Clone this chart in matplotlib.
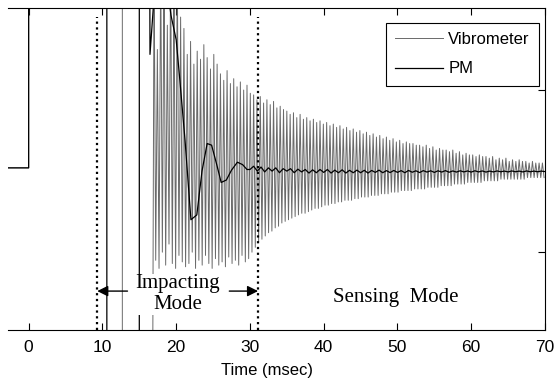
import numpy as np
import matplotlib
matplotlib.use('Agg')
import matplotlib.pyplot as plt

# vibrometer: lead-in before the ringing (times in msec)
vib_pre_t = [-2.8, 0.0, 0.0, 12.7, 12.7, 16.8]
vib_pre_y = [0.02, 0.02, 1.5, 1.5, -1.5, -1.5]

# ringing part, one top and one bottom per cycle
vib_start = 17.0
vib_period = 0.45
vib_top = [1.3, 0.75, 1.3, 1.2, 0.9, 1.3, 1.1, 1.25, 0.95, 0.88,
           0.72, 0.8, 0.66, 0.74, 0.69, 0.78, 0.7, 0.63, 0.72, 0.66,
           0.6, 0.56, 0.62, 0.54, 0.57, 0.52, 0.55, 0.5, 0.53, 0.48,
           0.47, 0.44, 0.46, 0.42, 0.44, 0.41, 0.43, 0.39, 0.4, 0.38,
           0.37, 0.35, 0.36, 0.33, 0.35, 0.32, 0.33, 0.31, 0.32, 0.3,
           0.31, 0.29, 0.3, 0.28, 0.29, 0.27, 0.28, 0.26, 0.27, 0.25,
           0.26, 0.24, 0.25, 0.23, 0.24, 0.22, 0.23, 0.21, 0.22, 0.2,
           0.21, 0.19, 0.2, 0.18, 0.19, 0.17, 0.18, 0.17, 0.17, 0.16,
           0.16, 0.15, 0.16, 0.14, 0.15, 0.13, 0.14, 0.13, 0.13, 0.12,
           0.13, 0.11, 0.12, 0.1, 0.11, 0.1, 0.1, 0.09, 0.1, 0.09,
           0.09, 0.08, 0.09, 0.07, 0.08, 0.07, 0.08, 0.06, 0.07, 0.06,
           0.07, 0.06, 0.06, 0.05, 0.06, 0.05, 0.05, 0.05]
vib_bot = [-0.55, -0.6, -0.5, -0.58, -0.45, -0.57, -0.6, -0.52, -0.56, -0.59,
           -0.57, -0.5, -0.6, -0.55, -0.58, -0.52, -0.57, -0.6, -0.54, -0.58,
           -0.56, -0.59, -0.53, -0.57, -0.55, -0.58, -0.52, -0.56, -0.54, -0.5,
           -0.47, -0.44, -0.42, -0.4, -0.38, -0.37, -0.35, -0.34, -0.32, -0.31,
           -0.3, -0.29, -0.28, -0.27, -0.26, -0.26, -0.25, -0.24, -0.23, -0.23,
           -0.22, -0.21, -0.21, -0.2, -0.2, -0.19, -0.19, -0.18, -0.18, -0.18,
           -0.17, -0.17, -0.16, -0.16, -0.16, -0.15, -0.15, -0.15, -0.14, -0.14,
           -0.14, -0.13, -0.13, -0.13, -0.12, -0.12, -0.12, -0.12, -0.11, -0.11,
           -0.11, -0.11, -0.1, -0.1, -0.1, -0.1, -0.09, -0.09, -0.09, -0.09,
           -0.08, -0.08, -0.08, -0.08, -0.07, -0.07, -0.07, -0.07, -0.07, -0.06,
           -0.06, -0.06, -0.06, -0.06, -0.05, -0.05, -0.05, -0.05, -0.05, -0.05,
           -0.05, -0.05, -0.04, -0.04, -0.04, -0.04, -0.04, -0.04]

# PM: impact spikes and the slow damped swing
pm_t = [-2.8, 0.0, 0.0, 10.6, 10.6, 15.0, 15.0, 16.4, 16.45, 17.2, 18.6, 19.3,
        20.0, 20.5, 21.2, 22.0, 22.8, 23.5, 24.2, 24.8, 25.5, 26.1, 26.8,
        27.5, 28.3, 29.0, 29.6]
pm_y = [0.02, 0.02, 1.5, 1.5, -1.5, -1.5, 1.5, 1.5, 0.72, 1.2, 1.2, 0.96,
        0.81, 0.56, 0.19, -0.30, -0.27, 0.0, 0.17, 0.16, 0.04, -0.07, -0.055,
        0.006, 0.055, 0.04, 0.01]
# PM in sensing mode, every 0.5 msec from 30 to 70
pm_tail_start = 30.0
pm_tail_step = 0.5
pm_tail = [0.01, 0.03, 0.0, 0.025, -0.005, 0.02, 0.0, 0.02, -0.01, 0.015,
           0.0, 0.015, -0.01, 0.012, -0.005, 0.01, -0.012, 0.008, -0.01, 0.01,
           -0.008, 0.01, -0.012, 0.006, -0.01, 0.008, -0.012, 0.005, -0.01, 0.006,
           -0.01, 0.005, -0.012, 0.004, -0.008, 0.006, -0.01, 0.003, -0.009, 0.004,
           -0.008, 0.003, -0.01, 0.004, -0.007, 0.002, -0.009, 0.003, -0.006, 0.002,
           -0.008, 0.002, -0.006, 0.003, -0.007, 0.001, -0.006, 0.002, -0.005, 0.001,
           -0.006, 0.002, -0.005, 0.001, -0.006, 0.0, -0.005, 0.001, -0.004, 0.0,
           -0.005, 0.001, -0.004, 0.0, -0.005, 0.001, -0.004, 0.0, -0.004, 0.0,
           -0.003]

# mode boundaries (msec)
impact_start = 9.3
sensing_start = 31.1
xticks = [0, 10, 20, 30, 40, 50, 60, 70]


def build_vib():
    n = len(vib_top)
    t_top = vib_start + vib_period * np.arange(n)
    t_bot = t_top + vib_period / 2
    t = np.empty(2 * n)
    y = np.empty(2 * n)
    t[0::2] = t_top
    t[1::2] = t_bot
    y[0::2] = vib_top
    y[1::2] = vib_bot
    return np.concatenate([vib_pre_t, t]), np.concatenate([vib_pre_y, y])


vt, vy = build_vib()
pt = np.concatenate([pm_t, pm_tail_start + pm_tail_step * np.arange(len(pm_tail))])
py = np.concatenate([pm_y, pm_tail])

fig = plt.figure(figsize=(5.57, 3.84), dpi=100)
ax = fig.add_axes([8 / 557, 1 - 330 / 384, 537 / 557, 322 / 384])

ax.plot(vt, vy, color='#6a6a6a', lw=0.7, label='Vibrometer', zorder=2)
ax.plot(pt, py, color='black', lw=0.9, label='PM', zorder=3)

# dotted mode boundaries
for xb in [impact_start, sensing_start]:
    ax.plot([xb, xb], [-0.98, 0.95], color='black', lw=1.6,
            linestyle=(0, (1, 1.6)), zorder=4)

arrow_y = -0.74
ax.annotate('', xy=(impact_start, arrow_y), xytext=(13.4, arrow_y),
            arrowprops=dict(arrowstyle='-|>', color='black', lw=1.0,
                            mutation_scale=16, shrinkA=0, shrinkB=0))
ax.annotate('', xy=(sensing_start, arrow_y), xytext=(27.2, arrow_y),
            arrowprops=dict(arrowstyle='-|>', color='black', lw=1.0,
                            mutation_scale=16, shrinkA=0, shrinkB=0))

ax.text(20.2, -0.76, 'Impacting\nMode', ha='center', va='center',
        family='Liberation Serif', fontsize=15, linespacing=1.15,
        bbox=dict(facecolor='white', edgecolor='none', pad=0.3), zorder=5)
ax.text(49.7, -0.78, 'Sensing  Mode', ha='center', va='center',
        family='Liberation Serif', fontsize=15)

ax.set_xlim(-2.8, 70)
ax.set_ylim(-0.98, 1.006)
ax.set_xticks(xticks)
ax.set_xticklabels([str(v) for v in xticks], family='Liberation Sans', fontsize=12.5)
ax.set_yticks([-0.5, 0.5])
ax.set_yticklabels([])
ax.tick_params(direction='in', length=5, width=0.8, top=True, right=True,
               left=False, pad=7)
ax.spines['left'].set_visible(False)
ax.set_xlabel('Time (msec)', family='Liberation Sans', fontsize=12)
ax.xaxis.set_label_coords((267 - 8) / 537, (330 - 363) / 322)
for s in ax.spines.values():
    s.set_linewidth(0.8)

leg = ax.legend(loc='upper right', bbox_to_anchor=((539 - 8) / 537, (330 - 23) / 322),
                borderaxespad=0, fancybox=False, framealpha=1, edgecolor='black',
                handlelength=2.9, handletextpad=0.3, labelspacing=0.85,
                borderpad=0.55, prop={'family': 'Liberation Sans', 'size': 12})
leg.get_frame().set_linewidth(0.8)

fig.savefig('out.png', dpi=100)
plt.close(fig)
